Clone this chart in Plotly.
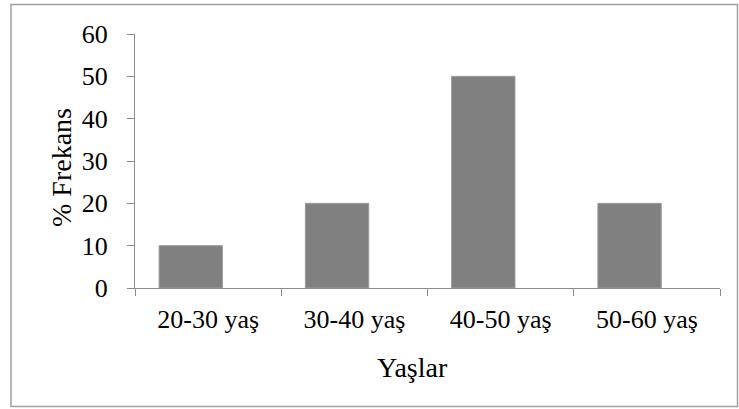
import plotly.graph_objects as go

categories = ["20-30 yaş", "30-40 yaş", "40-50 yaş", "50-60 yaş"]
values = [10, 20, 50, 20]
y_ticks = [0, 10, 20, 30, 40, 50, 60]
x_title = "Yaşlar"
y_title = "% Frekans"

W, H = 739, 409
L, R, T, B = 135, 19, 34, 121
pw, ph = W - L - R, H - T - B

def px_x(p):
    return (p - L) / pw

def px_y(p):
    return (H - B - p) / ph

FONT = "Liberation Serif"
AX = "#8c8c8c"

fig = go.Figure()
fig.add_trace(go.Bar(
    x=categories, y=values,
    width=0.433, offset=-0.335,
    marker=dict(color="#808080", line=dict(color="#9a9a9a", width=1)),
))

fig.update_layout(
    width=W, height=H,
    margin=dict(l=L, r=R, t=T, b=B, pad=0),
    paper_bgcolor="white", plot_bgcolor="white",
    showlegend=False,
    font=dict(family=FONT, color="black"),
    xaxis=dict(
        type="category", range=[-0.5, 3.5],
        showline=True, linecolor=AX, linewidth=1,
        ticks="outside", tickson="boundaries", ticklen=7, tickcolor=AX, tickwidth=1,
        tickfont=dict(size=26, family=FONT), showgrid=False, zeroline=False,
        ticklabelstandoff=8,
    ),
    yaxis=dict(
        range=[0, 60], tickvals=y_ticks,
        showline=True, linecolor=AX, linewidth=1,
        ticks="outside", ticklen=7, tickcolor=AX, tickwidth=1,
        tickfont=dict(size=26, family=FONT), showgrid=False, zeroline=False,
        ticklabelstandoff=14,
    ),
    annotations=[
        dict(text=x_title, xref="paper", yref="paper", x=px_x(412), y=px_y(367),
             xanchor="center", yanchor="middle", showarrow=False,
             font=dict(size=28, family=FONT, color="black")),
        dict(text=y_title, xref="paper", yref="paper", x=px_x(61), y=px_y(168),
             xanchor="center", yanchor="middle", showarrow=False, textangle=-90,
             font=dict(size=28, family=FONT, color="black")),
    ],
    shapes=[
        dict(type="rect", xref="paper", yref="paper",
             x0=px_x(11), x1=px_x(737.5), y0=px_y(406.5), y1=px_y(4.5),
             line=dict(color="#a0a0a0", width=1.5), layer="below"),
    ],
)

fig.write_html("out.html", config={"displayModeBar": False},
               post_script="document.body.style.margin='0';document.body.style.overflow='hidden';")
